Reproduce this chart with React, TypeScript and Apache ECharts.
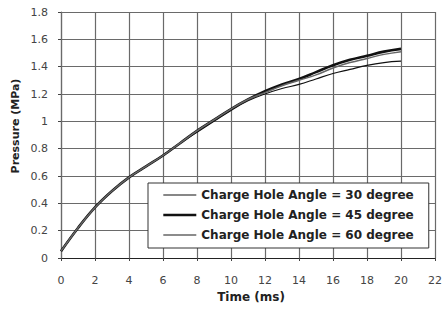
import React, { useEffect, useRef } from "react";
import * as echarts from "echarts";

const times = [0, 1, 2, 3, 4, 5, 6, 7, 8, 9, 10, 11, 12, 13, 14, 15, 16, 17, 18, 19, 20];
const angle30 = [0.05, 0.22, 0.37, 0.49, 0.59, 0.67, 0.75, 0.84, 0.92, 1.0, 1.08, 1.15, 1.2, 1.24, 1.27, 1.31, 1.35, 1.38, 1.41, 1.43, 1.44];
const angle45 = [0.05, 0.22, 0.37, 0.49, 0.59, 0.67, 0.75, 0.84, 0.93, 1.01, 1.09, 1.16, 1.22, 1.27, 1.31, 1.36, 1.41, 1.45, 1.48, 1.51, 1.53];
const angle60 = [0.05, 0.22, 0.37, 0.49, 0.59, 0.67, 0.75, 0.84, 0.93, 1.01, 1.09, 1.16, 1.21, 1.26, 1.3, 1.34, 1.39, 1.43, 1.46, 1.49, 1.51];
const seriesNames = [
  "Charge Hole Angle = 30 degree",
  "Charge Hole Angle = 45 degree",
  "Charge Hole Angle = 60 degree",
];
const xTitle = "Time (ms)";
const yTitle = "Pressure (MPa)";

const FONT = "DejaVu Sans";
const lineColors = ["#111", "#111", "#666"];
const lineWidths = [1.2, 2.6, 1.5];

export default function App() {
  const ref = useRef<HTMLDivElement>(null);
  useEffect(() => {
    if (!ref.current) return;
    const chart = echarts.init(ref.current, null, { renderer: "svg" });
    const pair = (vals: number[]) => times.map((t, i) => [t, vals[i]]);
    const allValues = [angle30, angle45, angle60];
    const zs = [3, 2, 4];
    chart.setOption({
      animation: false,
      backgroundColor: "#ffffff",
      grid: { left: 61, right: 4, top: 12, bottom: 51 },
      xAxis: {
        type: "value",
        min: 0,
        max: 22,
        interval: 2,
        axisLine: { show: true, lineStyle: { color: "#222", width: 1 } },
        axisTick: { show: true, length: 3, lineStyle: { color: "#444" } },
        axisLabel: { margin: 17, color: "#444", fontFamily: FONT, fontSize: 11 },
        splitLine: { show: true, lineStyle: { color: "#6a6a6a", width: 1.2 } },
      },
      yAxis: {
        type: "value",
        min: 0,
        max: 1.8,
        interval: 0.2,
        axisLine: { show: true, lineStyle: { color: "#6a6a6a", width: 1.2 } },
        axisTick: { show: true, length: 3, lineStyle: { color: "#444" } },
        axisLabel: { margin: 13, color: "#444", fontFamily: FONT, fontSize: 11 },
        splitLine: { show: true, lineStyle: { color: "#6a6a6a", width: 1.2 } },
      },
      legend: {
        orient: "vertical",
        left: 148,
        top: 183,
        padding: [6, 15, 7, 14],
        itemGap: 8,
        itemWidth: 33,
        itemHeight: 12,
        borderColor: "#333",
        borderWidth: 1,
        backgroundColor: "#fff",
        itemStyle: { opacity: 0 },
        textStyle: { fontFamily: FONT, fontSize: 12, fontWeight: "bold", color: "#222" },
        data: seriesNames.map((name, i) => ({
          name,
          itemStyle: { opacity: 0 },
          lineStyle: { color: lineColors[i], width: lineWidths[i] },
        })),
      },
      graphic: [
        {
          type: "text",
          x: 251,
          y: 297,
          style: {
            text: xTitle,
            fontFamily: FONT,
            fontSize: 12,
            fontWeight: "bold",
            fill: "#222",
            align: "center",
            verticalAlign: "middle",
          },
        },
        {
          type: "text",
          x: 15,
          y: 126,
          rotation: Math.PI / 2,
          style: {
            text: yTitle,
            fontFamily: FONT,
            fontSize: 11,
            fontWeight: "bold",
            fill: "#222",
            align: "center",
            verticalAlign: "middle",
          },
        },
      ],
      series: seriesNames.map((name, i) => ({
        name,
        type: "line",
        smooth: 0.4,
        symbol: "none",
        data: pair(allValues[i]),
        lineStyle: { color: lineColors[i], width: lineWidths[i] },
        itemStyle: { color: lineColors[i] },
        z: zs[i],
      })),
    });
    return () => chart.dispose();
  }, []);
  return <div ref={ref} style={{ width: 445, height: 309, position: "absolute", left: 0, top: 0 }} />;
}
